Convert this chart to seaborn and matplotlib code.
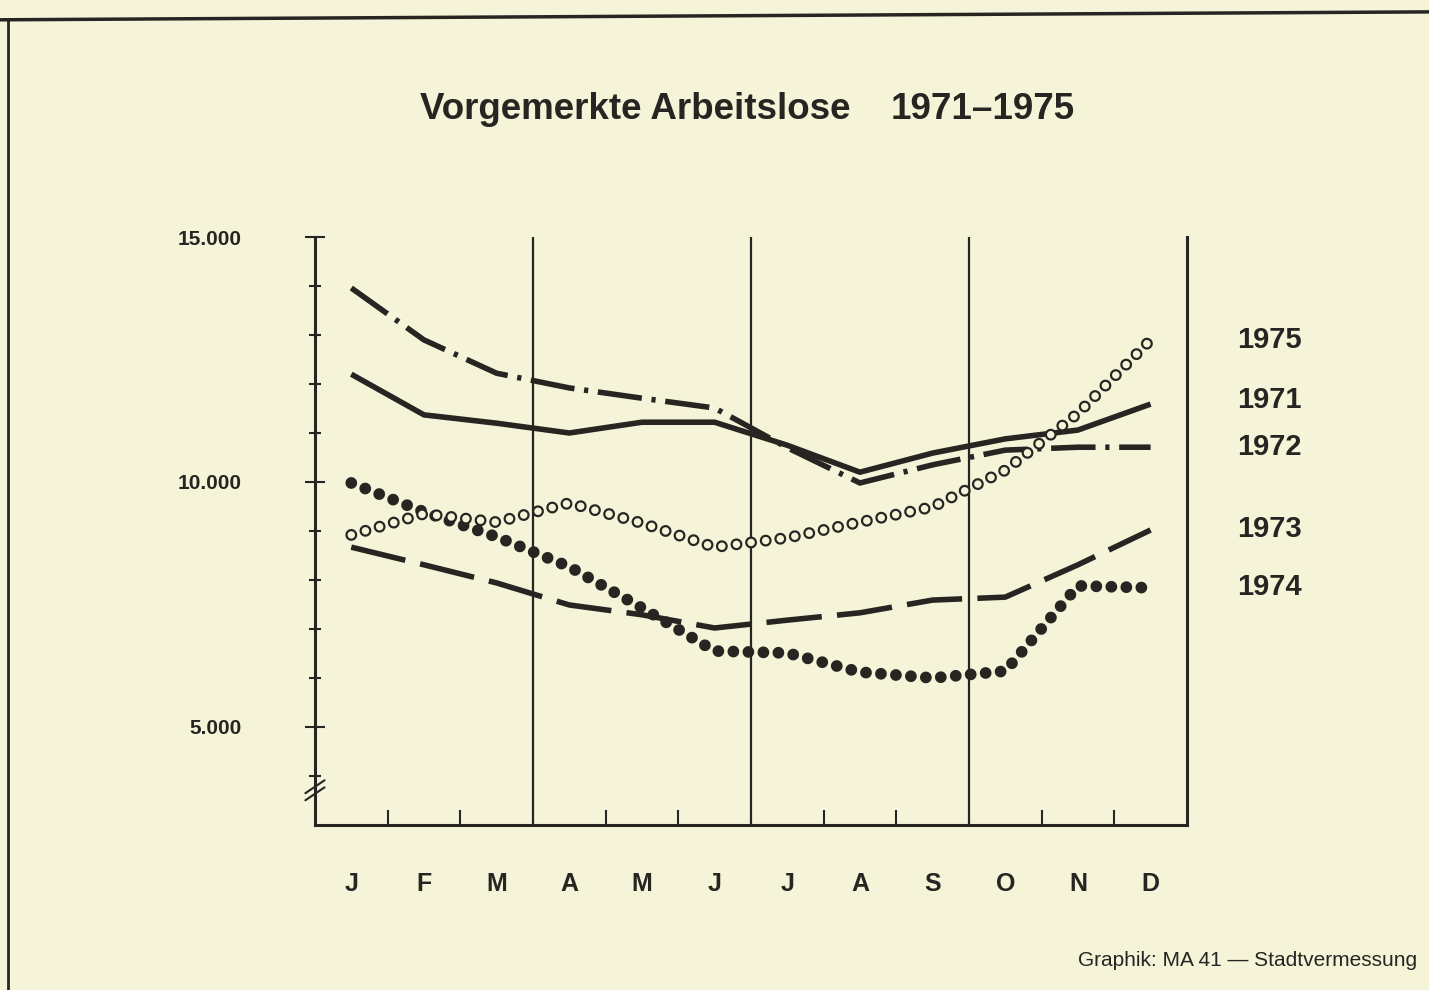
import numpy as np
import pandas as pd
import matplotlib.pyplot as plt
import seaborn as sns
from matplotlib.lines import Line2D

# values (Vorgemerkte Arbeitslose, monthly)
months = ["J", "F", "M", "A", "M", "J", "J", "A", "S", "O", "N", "D"]
y1971 = [12200, 11370, 11200, 11000, 11220, 11220, 10750, 10200, 10590, 10880, 11060, 11590]
y1972 = [13960, 12900, 12220, 11920, 11710, 11510, 10700, 9980, 10350, 10650, 10710, 10710]
y1973 = [8670, 8310, 7940, 7490, 7290, 7020, 7180, 7330, 7590, 7650, 8310, 9020]
y1974 = [9980, 9390, 8880, 8270, 7430, 6550, 6510, 6120, 6000, 6140, 7880, 7840]
y1975 = [8920, 9350, 9180, 9570, 9160, 8670, 8860, 9180, 9490, 10240, 11400, 12900]

year_labels = ["1975", "1971", "1972", "1973", "1974"]
label_y = [12900, 11680, 10720, 9050, 7850]

ytick_vals = [5000, 10000, 15000]
ytick_labels = ["5.000", "10.000", "15.000"]

bg = "#f5f3d8"
ink = "#262522"

sns.set_theme(style="white")
plt.rcParams["font.family"] = ["Liberation Sans", "DejaVu Sans"]
plt.rcParams["lines.scale_dashes"] = False
plt.rcParams["text.color"] = ink

df = pd.DataFrame({"pos": np.arange(12) + 0.5,
                   "1971": y1971, "1972": y1972, "1973": y1973,
                   "1974": y1974, "1975": y1975})

fig = plt.figure(figsize=(14.29, 9.9), dpi=100, facecolor=bg)
ax = fig.add_axes([0.2204, 0.1667, 0.6102, 0.5939])
ax.set_facecolor(bg)

# quarter dividers
for v in [3, 6, 9]:
    ax.axvline(v, color=ink, lw=1.6, zorder=1)

sns.lineplot(data=df, x="pos", y="1971", ax=ax, color=ink, lw=4, solid_capstyle="butt")
sns.lineplot(data=df, x="pos", y="1972", ax=ax, color=ink, lw=4,
             linestyle=(0, (32, 7, 3, 7)), dash_capstyle="butt")
sns.lineplot(data=df, x="pos", y="1973", ax=ax, color=ink, lw=4,
             linestyle=(0, (40, 11)), dash_capstyle="butt")
# filled dots
sns.lineplot(data=df, x="pos", y="1974", ax=ax, color=ink, lw=8.5,
             linestyle=(0, (0.01, 10.8)), dash_capstyle="round")
# open circles: dark dots with paper-coloured dots on top
sns.lineplot(data=df, x="pos", y="1975", ax=ax, color=ink, lw=8.6,
             linestyle=(0, (0.01, 10.6)), dash_capstyle="round")
sns.lineplot(data=df, x="pos", y="1975", ax=ax, color=bg, lw=5.4,
             linestyle=(0, (0.01, 10.6)), dash_capstyle="round")

ax.set_xlim(0, 12)
ax.set_ylim(3000, 15000)
ax.set_xlabel("")
ax.set_ylabel("")

for s in ["left", "bottom", "right"]:
    ax.spines[s].set_color(ink)
    ax.spines[s].set_linewidth(2.2)
ax.spines["top"].set_visible(False)

ax.set_xticks([1, 2, 4, 5, 7, 8, 10, 11])
ax.set_xticklabels([])
ax.set_xticks(df["pos"], minor=True)
ax.set_xticklabels(months, minor=True, fontweight="bold")
ax.tick_params(axis="x", which="major", direction="in", length=11, width=1.5,
               color=ink, bottom=True)
ax.tick_params(axis="x", which="minor", length=0, pad=34, labelsize=18, labelcolor=ink)

ax.set_yticks(ytick_vals)
ax.set_yticklabels(ytick_labels, fontweight="bold")
ax.set_yticks([4000, 6000, 7000, 8000, 9000, 11000, 12000, 13000, 14000], minor=True)
ax.tick_params(axis="y", which="major", direction="inout", length=15, width=1.5,
               color=ink, pad=45, labelsize=15, labelcolor=ink, left=True)
ax.tick_params(axis="y", which="minor", direction="inout", length=8, width=1.5,
               color=ink, left=True)

# axis break
for dy in [0.0, -0.012]:
    ax.plot([-0.011, 0.011], [0.054 + dy, 0.076 + dy], transform=ax.transAxes,
            color=ink, lw=1.5, clip_on=False)

for lab, yv in zip(year_labels, label_y):
    ax.text(13.13, yv, lab, ha="center", va="center", fontsize=21,
            fontweight="bold", clip_on=False)

fig.text(0.4444, 0.889, "Vorgemerkte Arbeitslose", ha="center", va="center",
         fontsize=26.5, fontweight="bold")
fig.text(0.688, 0.889, "1971–1975", ha="center", va="center",
         fontsize=26.5, fontweight="bold")
fig.text(0.992, 0.030, "Graphik: MA 41 — Stadtvermessung", ha="right", va="center",
         fontsize=15)

# page frame
fig.add_artist(Line2D([0, 1], [0.980, 0.988], transform=fig.transFigure, color=ink, lw=2.5))
fig.add_artist(Line2D([0.0056, 0.0056], [0, 0.981], transform=fig.transFigure, color=ink, lw=2))

fig.savefig("out.png", dpi=100, facecolor=bg)
